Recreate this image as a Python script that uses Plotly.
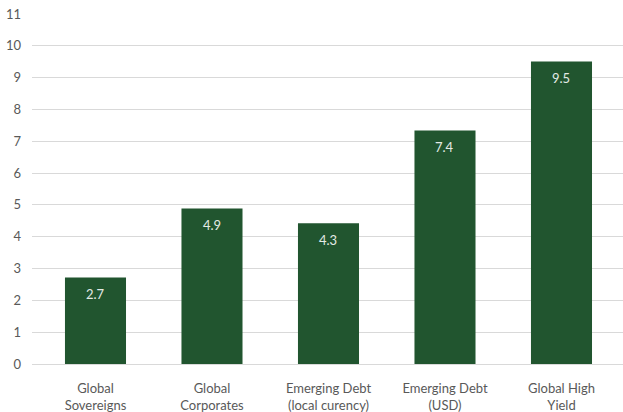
import plotly.graph_objects as go

categories = ["Global<br>Sovereigns", "Global<br>Corporates", "Emerging Debt<br>(local curency)",
              "Emerging Debt<br>(USD)", "Global High<br>Yield"]
values = [2.72, 4.89, 4.42, 7.34, 9.51]
labels = ["2.7", "4.9", "4.3", "7.4", "9.5"]
y_ticks = list(range(0, 12))

bar_color = "#21552F"
text_color = "#595959"
font_family = "Lato, 'Open Sans', sans-serif"

fig = go.Figure()
fig.add_trace(go.Bar(
    x=list(range(len(categories))), y=values,
    marker=dict(color=bar_color, line=dict(width=0)),
    width=0.524, hoverinfo="skip",
))

for i, (v, t) in enumerate(zip(values, labels)):
    fig.add_annotation(x=i, y=v, text=t, showarrow=False, yshift=-17,
                       yanchor="middle", xanchor="center",
                       font=dict(family=font_family, size=13, color="#E3EAE5"))

fig.update_layout(
    width=623, height=412,
    margin=dict(l=32, r=0, t=14, b=48),
    paper_bgcolor="white", plot_bgcolor="white",
    showlegend=False,
    font=dict(family=font_family, size=13, color=text_color),
    xaxis=dict(
        tickmode="array", tickvals=list(range(len(categories))), ticktext=categories,
        range=[-0.545, 4.528], showgrid=False, zeroline=False, showline=False,
        ticks="", ticklabelstandoff=15, tickfont=dict(size=13, color=text_color),
    ),
    yaxis=dict(
        range=[0, 11], tickmode="array", tickvals=y_ticks,
        showgrid=True, gridcolor="#D9D9D9", gridwidth=1,
        zeroline=True, zerolinecolor="#D9D9D9", zerolinewidth=1,
        showline=False, ticks="", ticklabelstandoff=10,
        tickfont=dict(size=13, color=text_color),
    ),
)

fig.write_html("out.html")
